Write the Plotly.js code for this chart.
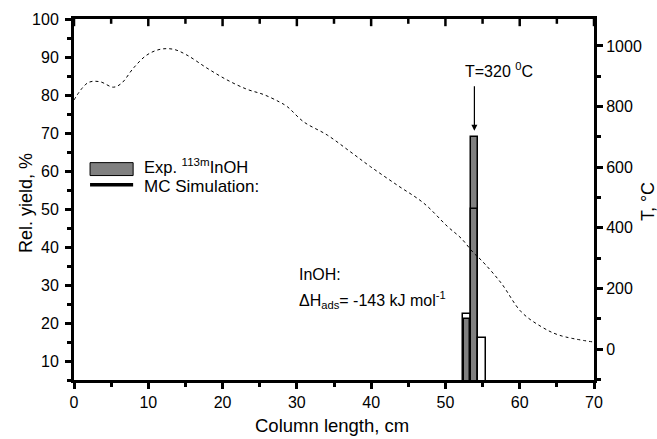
<!DOCTYPE html>
<html>
<head>
<meta charset="utf-8">
<script src="https://cdn.plot.ly/plotly-3.0.1.min.js"></script>
<style>html,body{margin:0;padding:0;background:#fff;}#chart{width:657px;height:439px;}</style>
</head>
<body>
<div id="chart"></div>
<script>
// Column position (cm) of histogram bins
const binPos = [52.9, 53.9, 54.9];
// Experimental relative yield (%) of 113mInOH
const expPos = [52.9, 53.9];
const expYield = [21, 69];
const expWidth = [0.85, 1.0];
// Monte Carlo simulation relative yield (%)
const mcYield = [22.5, 50, 16];
// Temperature profile along the column
const tempX = [0, 1.9, 3.5, 5.3, 6.4, 8.0, 9.8, 11.6, 13.4, 15.2, 17.9, 20.6, 23.3, 25.5, 27.6, 28.7, 30.9, 34.1, 37.2, 39.9, 43.5, 47.1, 50.3, 52.1, 53.8, 54.8, 57.5, 60.2, 62.9, 65.3, 70];
const tempC = [822, 879, 882, 864, 877, 927, 970, 989, 989, 970, 927, 888, 857, 840, 816, 800, 750, 706, 651, 602, 541, 481, 404, 366, 317, 294, 218, 123, 74, 46, 23];
// Top-axis tick values (inward ticks)
const xMajor = [0, 10, 20, 30, 40, 50, 60, 70];
const xMinor = [5, 15, 25, 35, 45, 55, 65];

const xRange = [0, 70], yRange = [5, 100], tRange = [-102, 1089];
const font = "Liberation Sans, Arial, sans-serif";
const tf = {family: font, size: 16, color: '#000000'};
const H = 439 - 19 - 59;
const pxY = (yRange[1] - yRange[0]) / H;

function tickTrace(xs, ys, size) {
  return {type: 'scatter', mode: 'markers', x: xs, y: ys, yaxis: 'y', cliponaxis: false,
    hoverinfo: 'skip', showlegend: false,
    marker: {symbol: 'line-ns', size: size, color: '#000000', line: {color: '#000000', width: 2.5}}};
}

const traces = [
  {type: 'bar', x: expPos, y: expYield, width: expWidth, xaxis: 'x', yaxis: 'y',
   marker: {color: '#808080', line: {color: '#000', width: 1.5}}, showlegend: false},
  {type: 'bar', x: binPos, y: mcYield, width: [1, 1, 1], xaxis: 'x', yaxis: 'y',
   marker: {color: 'rgba(255,255,255,0)', line: {color: '#000', width: 1.5}}, showlegend: false},
  {type: 'scatter', mode: 'lines', x: tempX, y: tempC, xaxis: 'x', yaxis: 'y2',
   line: {color: '#000', width: 1, dash: 'dot', shape: 'spline'}, showlegend: false},
  tickTrace(xMajor, xMajor.map(() => yRange[1] - 3 * pxY), 6),
  tickTrace(xMinor, xMinor.map(() => yRange[1] - 2 * pxY), 4)
];

const minorStyle = (d) => ({dtick: d, ticklen: 4, tickcolor: '#000000', tickwidth: 2.5, ticks: 'outside'});

const layout = {
  width: 657, height: 439,
  margin: {l: 74, r: 63, t: 19, b: 59},
  paper_bgcolor: '#fff', plot_bgcolor: '#fff',
  barmode: 'overlay', bargap: 0,
  font: {family: font, color: '#000'},
  xaxis: {range: xRange, dtick: 10, tick0: 0, ticks: 'outside', ticklen: 6, tickwidth: 2.5, tickcolor: '#000000',
    minor: minorStyle(5),
    linecolor: '#000000', linewidth: 3, showline: true, mirror: true, showgrid: false, zeroline: false, tickfont: tf},
  yaxis: {range: yRange, dtick: 10, tick0: 0, ticks: 'outside', ticklen: 6, tickwidth: 2.5, tickcolor: '#000000',
    minor: minorStyle(5), ticklabelstandoff: 3,
    linecolor: '#000000', linewidth: 3, showline: true, showgrid: false, zeroline: false, tickfont: tf},
  yaxis2: {range: tRange, dtick: 200, tick0: 0, ticks: 'outside', ticklen: 6, tickwidth: 2.5, tickcolor: '#000000',
    minor: minorStyle(100),
    overlaying: 'y', side: 'right', anchor: 'x',
    linecolor: '#000000', linewidth: 3, showline: true, showgrid: false, zeroline: false, tickfont: tf},
  shapes: [
    {type: 'rect', xref: 'x', yref: 'y', x0: 2.16, x1: 7.96, y0: 58.8, y1: 62.2,
     fillcolor: '#808080', line: {color: '#000', width: 1}},
    {type: 'line', xref: 'x', yref: 'y', x0: 2.16, x1: 7.96, y0: 56.4, y1: 56.4,
     line: {color: '#000', width: 3.5}}
  ],
  annotations: [
    {xref: 'paper', yref: 'paper', x: 0.496, y: -0.125, xanchor: 'center', yanchor: 'middle', showarrow: false,
     text: 'Column length, cm', font: {family: font, size: 18.5, color: '#000'}},
    {xref: 'paper', yref: 'paper', x: -0.0923, y: 0.49, xanchor: 'center', yanchor: 'middle', showarrow: false,
     textangle: -90, text: 'Rel. yield, %', font: {family: font, size: 18, color: '#000'}},
    {xref: 'paper', yref: 'paper', x: 1.104, y: 0.493, xanchor: 'center', yanchor: 'middle', showarrow: false,
     textangle: -90, text: 'T, °C', font: {family: font, size: 18, color: '#000'}},
    {xref: 'x', yref: 'y', x: 9.2, y: 61.2, xanchor: 'left', yanchor: 'middle', showarrow: false,
     text: 'Exp. <sup>113m</sup>InOH', font: {family: font, size: 16.5, color: '#000'}},
    {xref: 'x', yref: 'y', x: 9.2, y: 56.0, xanchor: 'left', yanchor: 'middle', showarrow: false,
     text: 'MC Simulation:', font: {family: font, size: 17, color: '#000'}},
    {xref: 'x', yref: 'y', x: 30.0, y: 32.7, xanchor: 'left', yanchor: 'middle', showarrow: false,
     text: 'InOH:', font: {family: font, size: 16, color: '#000'}},
    {xref: 'x', yref: 'y', x: 30.0, y: 26.0, xanchor: 'left', yanchor: 'middle', showarrow: false,
     text: 'ΔH<sub>ads</sub>= -143 kJ mol<sup>-1</sup>', font: {family: font, size: 16, color: '#000'}},
    {xref: 'x', yref: 'y', x: 57.2, y: 86.5, xanchor: 'center', yanchor: 'middle', showarrow: false,
     text: 'T=320 <sup>0</sup>C', font: {family: font, size: 16, color: '#000'}},
    {xref: 'x', yref: 'y', x: 53.9, y: 70.6, ax: 0, ay: -46, showarrow: true, text: '',
     arrowhead: 2, arrowsize: 1, arrowwidth: 1.2, arrowcolor: '#000'}
  ]
};

Plotly.newPlot('chart', traces, layout, {displayModeBar: false});
</script>
</body>
</html>
